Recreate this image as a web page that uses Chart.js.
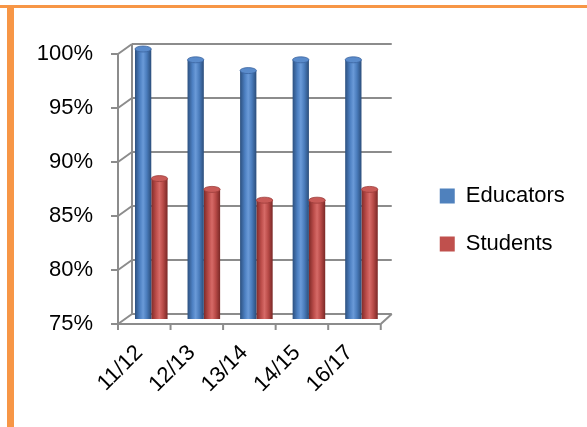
<!DOCTYPE html>
<html>
<head>
<meta charset="utf-8">
<script src="https://cdn.jsdelivr.net/npm/chart.js@4.4.1/dist/chart.umd.min.js"></script>
<style>
  html, body { margin: 0; padding: 0; background: #fff; }
  #wrap { position: relative; width: 587px; height: 427px; overflow: hidden; }
  #chart { position: absolute; left: 0; top: 0; }
  #frameTop { position: absolute; left: 0; top: 5px; width: 587px; height: 3px; background: #F79646; }
  #frameLeft { position: absolute; left: 7px; top: 5px; width: 7px; height: 422px; background: #F79646; }
</style>
</head>
<body>
<div id="wrap">
  <canvas id="chart" width="587" height="427"></canvas>
  <div id="frameTop"></div>
  <div id="frameLeft"></div>
</div>
<script>
// data
const categories = ['11/12', '12/13', '13/14', '14/15', '16/17'];
const educators = [100, 99, 98, 99, 99];
const students = [88, 87, 86, 86, 87];
const yMin = 75;
const yMax = 100;
const yStep = 5;

// look
const DEPTH_X = 7;
const DEPTH_Y = 5;
const CAT_PCT = 0.62;
const blueStops = ['#2c507f', '#4d80c2', '#6a9ad8', '#4a7cbc', '#2b4d7a'];
const redStops = ['#7f2a28', '#bd4e4b', '#d66a67', '#b94b48', '#7a2826'];
const FONT = "'Liberation Sans', Arial, sans-serif";

function makeGrad(ctx, x0, x1, stops) {
  const g = ctx.createLinearGradient(x0, 0, x1, 0);
  const pos = [0, 0.3, 0.5, 0.72, 1];
  stops.forEach((c, i) => g.addColorStop(pos[i], c));
  return g;
}

function cylinderFill(stops, solid) {
  return function(context) {
    const chart = context.chart;
    const xs = chart.scales.x;
    if (!chart.chartArea || !xs || context.dataIndex === undefined) return solid;
    const barW = xs.width / categories.length * CAT_PCT / 2;
    const cx = xs.getPixelForValue(context.dataIndex) + (context.datasetIndex === 0 ? -barW / 2 : barW / 2);
    return makeGrad(chart.ctx, cx - barW / 2, cx + barW / 2, stops);
  };
}

// draws the 3d walls and floor behind the bars
const frame3d = {
  id: 'frame3d',
  beforeDatasetsDraw(chart) {
    const { ctx, chartArea, scales } = chart;
    const { left, right, bottom } = chartArea;
    const y = scales.y;
    ctx.save();
    ctx.strokeStyle = '#8c8c8c';
    ctx.lineWidth = 2;
    const line = (x1, y1, x2, y2) => {
      ctx.beginPath(); ctx.moveTo(x1, y1); ctx.lineTo(x2, y2); ctx.stroke();
    };
    const topPx = y.getPixelForValue(yMax);
    // back wall
    line(left + DEPTH_X, topPx - DEPTH_Y, left + DEPTH_X, bottom - DEPTH_Y);
    // front axis
    line(left - DEPTH_X, topPx + DEPTH_Y, left - DEPTH_X, bottom + DEPTH_Y);
    y.ticks.forEach(t => {
      const py = y.getPixelForValue(t.value);
      line(left + DEPTH_X, py - DEPTH_Y, right + DEPTH_X - 3, py - DEPTH_Y);
      line(left - DEPTH_X, py + DEPTH_Y, left + DEPTH_X, py - DEPTH_Y);
      line(left - DEPTH_X - 7, py + DEPTH_Y, left - DEPTH_X, py + DEPTH_Y);
    });
    // floor
    line(left - DEPTH_X, bottom + DEPTH_Y, right - DEPTH_X, bottom + DEPTH_Y);
    line(right - DEPTH_X, bottom + DEPTH_Y, right + DEPTH_X - 3, bottom - DEPTH_Y);
    const step = (right - left) / categories.length;
    for (let i = 0; i <= categories.length; i++) {
      const px = left - DEPTH_X + i * step;
      line(px, bottom + DEPTH_Y, px, bottom + DEPTH_Y + 6);
    }
    ctx.restore();
  },
  afterDatasetsDraw(chart) {
    const ctx = chart.ctx;
    chart.data.datasets.forEach((ds, i) => {
      const stops = i === 0 ? blueStops : redStops;
      chart.getDatasetMeta(i).data.forEach(bar => {
        const { x, y, base, width } = bar.getProps(['x', 'y', 'base', 'width'], true);
        const x0 = x - width / 2, x1 = x + width / 2;
        ctx.save();
        ctx.fillStyle = makeGrad(ctx, x0, x1, stops);
        ctx.beginPath();
        ctx.ellipse(x, base, width / 2, 3, 0, 0, Math.PI);
        ctx.fill();
        ctx.fillStyle = i === 0 ? '#5a8bcb' : '#c85a57';
        ctx.beginPath();
        ctx.ellipse(x, y, width / 2, 3, 0, 0, Math.PI * 2);
        ctx.fill();
        ctx.strokeStyle = i === 0 ? '#3b64a0' : '#9c3c3a';
        ctx.lineWidth = 0.8;
        ctx.stroke();
        ctx.restore();
      });
    });
  }
};

// nudges the legend right and up, away from the plot
const legendShift = {
  id: 'legendShift',
  afterLayout(chart) {
    const lg = chart.legend;
    if (lg) {
      lg.left += 26;
      lg.right = chart.width;
      lg.top -= 18; lg.bottom -= 18;
    }
  }
};

new Chart(document.getElementById('chart'), {
  type: 'bar',
  data: {
    labels: categories,
    datasets: [
      {
        label: 'Educators',
        data: educators,
        backgroundColor: cylinderFill(blueStops, '#4F81BD'),
        borderWidth: 0
      },
      {
        label: 'Students',
        data: students,
        backgroundColor: cylinderFill(redStops, '#C0504D'),
        borderWidth: 0
      }
    ]
  },
  options: {
    responsive: false,
    animation: false,
    categoryPercentage: CAT_PCT,
    barPercentage: 1.0,
    layout: { padding: { top: 49, right: 70, bottom: 0, left: 0 } },
    plugins: {
      tooltip: { enabled: false },
      legend: {
        position: 'right',
        labels: {
          boxWidth: 15,
          boxHeight: 15,
          padding: 26,
          color: '#000',
          font: { family: FONT, size: 22 },
          generateLabels(chart) {
            return chart.data.datasets.map((ds, i) => ({
              text: ds.label,
              fillStyle: i === 0 ? '#4F81BD' : '#C0504D',
              strokeStyle: i === 0 ? '#4F81BD' : '#C0504D',
              lineWidth: 0,
              datasetIndex: i
            }));
          }
        }
      }
    },
    scales: {
      x: {
        grid: { display: false, drawTicks: false },
        border: { display: false },
        ticks: {
          color: '#000',
          font: { family: FONT, size: 22 },
          maxRotation: 45,
          minRotation: 45,
          padding: 21,
          labelOffset: -12
        },
        afterFit(scale) { scale.height = 108; }
      },
      y: {
        min: yMin,
        max: yMax,
        grid: { display: false, drawTicks: false },
        border: { display: false },
        ticks: {
          stepSize: yStep,
          color: '#000',
          font: { family: FONT, size: 22 },
          padding: 32,
          labelOffset: 5,
          callback: v => v + '%'
        },
        afterFit(scale) { scale.width = 125; }
      }
    }
  },
  plugins: [frame3d, legendShift]
});
</script>
</body>
</html>
